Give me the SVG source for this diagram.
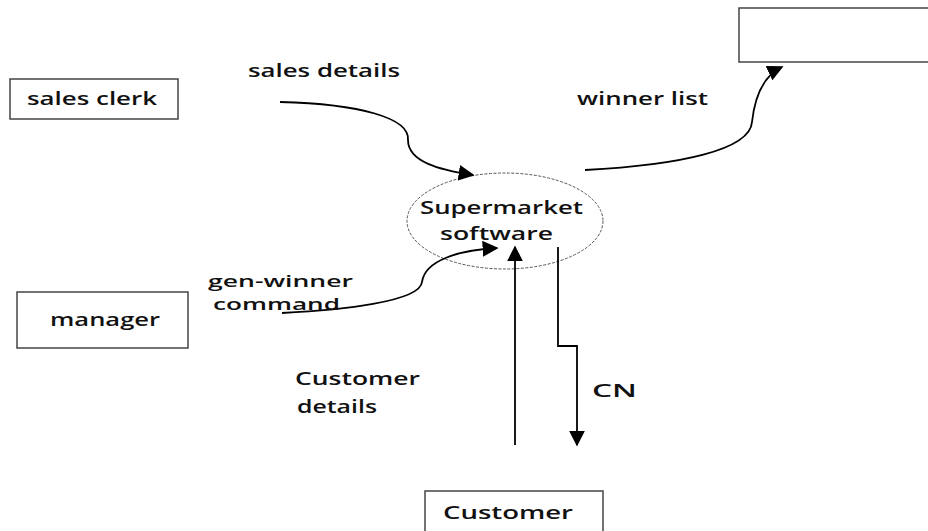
<svg xmlns="http://www.w3.org/2000/svg" width="928" height="531" viewBox="0 0 928 531">
<defs>
<style>
.box{fill:#fff;stroke:#444;stroke-width:1.5}
.lbl{font-family:"Open Sans","DejaVu Sans",sans-serif;font-weight:600;font-size:18px;fill:#111}
.sm{font-size:17px}
.edge{fill:none;stroke:#000;stroke-width:1.8}
.proc{fill:#fff;stroke:#555;stroke-width:1;stroke-dasharray:3 1.5}
</style>
<marker id="arr" viewBox="0 0 10 10" refX="9" refY="5" markerWidth="16" markerHeight="16" markerUnits="userSpaceOnUse" orient="auto">
<path d="M0,0 L10,5 L0,10 z" fill="#000"/>
</marker>
</defs>
<rect width="928" height="531" fill="#fff"/>
<g id="sales-clerk">
<rect class="box" x="10" y="79" width="168" height="40"/>
<text class="lbl" x="27" y="105" textLength="130" lengthAdjust="spacingAndGlyphs">sales clerk</text>
</g>
<g id="manager">
<rect class="box" x="17" y="292" width="171" height="56"/>
<text class="lbl" x="50" y="326" textLength="110" lengthAdjust="spacingAndGlyphs">manager</text>
</g>
<g id="winner-store">
<rect class="box" x="739" y="8" width="200" height="54"/>
</g>
<g id="customer">
<rect class="box" x="425" y="491" width="178" height="60"/>
<text class="lbl" x="443" y="519" textLength="130" lengthAdjust="spacingAndGlyphs">Customer</text>
</g>
<g id="supermarket-software">
<ellipse class="proc" cx="505" cy="221" rx="98" ry="48"/>
<text class="lbl" x="420" y="214" textLength="163" lengthAdjust="spacingAndGlyphs">Supermarket</text>
<text class="lbl" x="440" y="240" textLength="113" lengthAdjust="spacingAndGlyphs">software</text>
</g>
<g id="connectors">
<path class="edge" marker-end="url(#arr)" d="M280,102 C360,104 410,118 408,140 C408,162 440,170 473,175"/>
<path class="edge" marker-end="url(#arr)" d="M282,313 C340,310 420,302 422,282 C425,260 460,250 497,248"/>
<path class="edge" marker-end="url(#arr)" d="M585,170 C680,165 750,150 752,122 C755,95 765,75 782,67"/>
<path class="edge" marker-end="url(#arr)" d="M515,445 L515,247"/>
<path class="edge" marker-end="url(#arr)" d="M558,247 L558,346 L577,346 L577,445"/>
<text class="lbl" x="248" y="77" textLength="152" lengthAdjust="spacingAndGlyphs">sales details</text>
<text class="lbl" x="577" y="105" textLength="131" lengthAdjust="spacingAndGlyphs">winner list</text>
<text class="lbl sm" x="208" y="287" textLength="145" lengthAdjust="spacingAndGlyphs">gen-winner</text>
<text class="lbl sm" x="213" y="310" textLength="127" lengthAdjust="spacingAndGlyphs">command</text>
<text class="lbl" x="295" y="385" textLength="125" lengthAdjust="spacingAndGlyphs">Customer</text>
<text class="lbl" x="297" y="413" textLength="80" lengthAdjust="spacingAndGlyphs">details</text>
<text class="lbl" x="592" y="397" textLength="45" lengthAdjust="spacingAndGlyphs">CN</text>
</g>
</svg>
